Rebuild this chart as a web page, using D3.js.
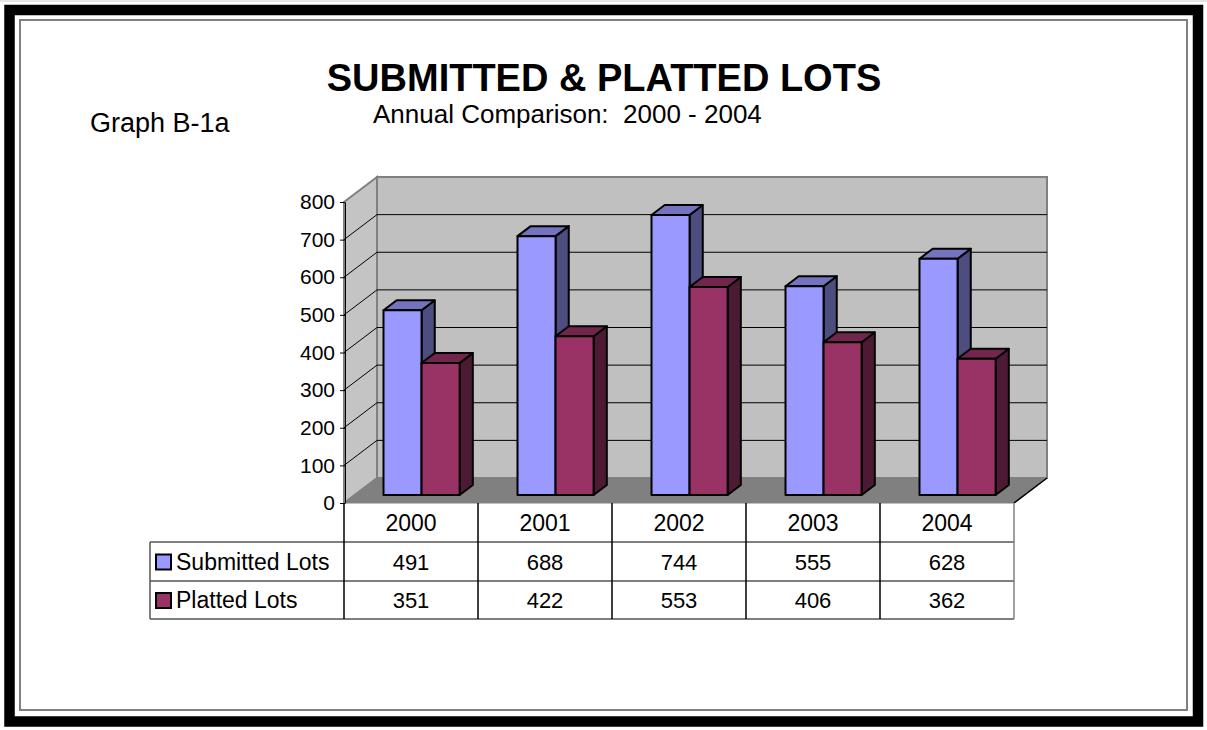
<!DOCTYPE html>
<html>
<head>
<meta charset="utf-8">
<script src="https://cdn.jsdelivr.net/npm/d3@7"></script>
<style>
  body { margin: 0; background: #fff; }
  svg { display: block; font-family: Arial, "Liberation Sans", sans-serif; }
</style>
</head>
<body>
<svg id="chart"></svg>
<script>
const years = ["2000", "2001", "2002", "2003", "2004"];
const submittedLots = [491, 688, 744, 555, 628];
const plattedLots = [351, 422, 553, 406, 362];
const seriesNames = ["Submitted Lots", "Platted Lots"];
const yTicks = [0, 100, 200, 300, 400, 500, 600, 700, 800];

const width = 1207, height = 730;
const series = [
    { name: seriesNames[0], values: submittedLots, front: "#9999ff", top: "#7373bf", side: "#4d4d80" },
    { name: seriesNames[1], values: plattedLots, front: "#993366", top: "#73264d", side: "#4d1a33" },
];

const svg = d3.select("#chart").attr("width", width).attr("height", height);

// frame
svg.append("line").attr("x1", 0).attr("x2", width).attr("y1", 1).attr("y2", 1)
    .attr("stroke", "#c8c8c8").attr("stroke-width", 1);
svg.append("rect").attr("x", 9.5).attr("y", 10).attr("width", 1188.5).attr("height", 711.5)
    .attr("fill", "none").attr("stroke", "#000").attr("stroke-width", 10.5);
svg.append("rect").attr("x", 20).attr("y", 20).attr("width", 1167).attr("height", 690)
    .attr("fill", "none").attr("stroke", "#808080").attr("stroke-width", 2);

// titles
svg.append("text").attr("x", 604).attr("y", 91).attr("text-anchor", "middle")
    .style("font-size", "38px").style("font-weight", "bold").text("SUBMITTED & PLATTED LOTS");
svg.append("text").attr("x", 373).attr("y", 123)
    .style("font-size", "26px").attr("xml:space", "preserve").style("white-space", "pre")
    .text("Annual Comparison:  2000 - 2004");
svg.append("text").attr("x", 90).attr("y", 132).style("font-size", "27px").text("Graph B-1a");

// scales (front plane)
const x = d3.scaleBand().domain(years).range([344, 1014]);
const y = d3.scaleLinear().domain([0, 800]).range([503, 202]);
const depth = { dx: 33, dy: -25 };
const barDepth = [0.32, 0.72];
const gap = x.bandwidth() * 0.216;
const xSub = d3.scaleBand().domain(seriesNames).range([gap, x.bandwidth() - gap]);

const proj = (px, v, f) => [px + depth.dx * f, y(v) + depth.dy * f];

const x0 = x.range()[0], x1 = x.range()[1];
const yTop = y.domain()[1];

// walls and floor
const poly = pts => pts.map(p => p.join(",")).join(" ");
svg.append("polygon")
    .attr("points", poly([proj(x0, yTop, 1), proj(x1, yTop, 1), proj(x1, 0, 1), proj(x0, 0, 1)]))
    .attr("fill", "#c0c0c0").attr("stroke", "#808080").attr("stroke-width", 2);
svg.append("polygon")
    .attr("points", poly([proj(x0, yTop, 0), proj(x0, yTop, 1), proj(x0, 0, 1), proj(x0, 0, 0)]))
    .attr("fill", "#c4c4c4").attr("stroke", "#808080").attr("stroke-width", 2);

// gridlines
const grid = yTicks.filter(t => t > 0 && t < yTop);
svg.selectAll(".gridBack").data(grid).enter().append("line")
    .attr("x1", d => proj(x0, d, 1)[0]).attr("y1", d => proj(x0, d, 1)[1])
    .attr("x2", d => proj(x1, d, 1)[0]).attr("y2", d => proj(x1, d, 1)[1])
    .attr("stroke", "#000").attr("stroke-width", 1);
svg.selectAll(".gridSide").data(grid).enter().append("line")
    .attr("x1", d => proj(x0, d, 0)[0]).attr("y1", d => proj(x0, d, 0)[1])
    .attr("x2", d => proj(x0, d, 1)[0]).attr("y2", d => proj(x0, d, 1)[1])
    .attr("stroke", "#000").attr("stroke-width", 1);

svg.append("polygon")
    .attr("points", poly([proj(x0, 0, 0), proj(x1, 0, 0), proj(x1, 0, 1), proj(x0, 0, 1)]))
    .attr("fill", "#808080").attr("stroke", "#808080").attr("stroke-width", 1);
svg.append("line")
    .attr("x1", proj(x1, 0, 0)[0]).attr("y1", proj(x1, 0, 0)[1])
    .attr("x2", proj(x1, 0, 1)[0]).attr("y2", proj(x1, 0, 1)[1])
    .attr("stroke", "#000").attr("stroke-width", 1.5);

// bars
const bars = [];
years.forEach((yr, i) => {
    series.forEach(s => {
        bars.push({ year: yr, value: s.values[i], s, left: x(yr) + xSub(s.name), right: x(yr) + xSub(s.name) + xSub.bandwidth() });
    });
});
const [f0, f1] = barDepth;
const barG = svg.selectAll(".bar").data(bars).enter().append("g").attr("class", "bar");
barG.append("polygon")
    .attr("points", d => poly([proj(d.right, d.value, f0), proj(d.right, d.value, f1), proj(d.right, 0, f1), proj(d.right, 0, f0)]))
    .attr("fill", d => d.s.side);
barG.append("polygon")
    .attr("points", d => poly([proj(d.left, d.value, f0), proj(d.right, d.value, f0), proj(d.right, d.value, f1), proj(d.left, d.value, f1)]))
    .attr("fill", d => d.s.top);
barG.append("polygon")
    .attr("points", d => poly([proj(d.left, d.value, f0), proj(d.right, d.value, f0), proj(d.right, 0, f0), proj(d.left, 0, f0)]))
    .attr("fill", d => d.s.front);
barG.selectAll("polygon").attr("stroke", "#000").attr("stroke-width", 2).attr("stroke-linejoin", "round");

// y axis
const axis = svg.append("g").attr("transform", `translate(${x0 + 1},0)`)
    .call(d3.axisLeft(y).tickValues(yTicks).tickSize(5).tickPadding(5).tickSizeOuter(0));
axis.select(".domain").attr("stroke", "#000");
axis.selectAll(".tick line").attr("stroke", "#000");
axis.selectAll("text").style("font-size", "21px").attr("fill", "#000")
    .style("font-family", "Arial, 'Liberation Sans', sans-serif");

// data table
const rowY = [503, 542, 581, 619];
const legendX = 150;
const table = svg.append("g");
table.selectAll(".hline").data(rowY.slice(1)).enter().append("line")
    .attr("x1", legendX).attr("x2", x1).attr("y1", d => d).attr("y2", d => d)
    .attr("stroke", "#555").attr("stroke-width", 1.5);
table.append("line").attr("x1", legendX).attr("x2", legendX).attr("y1", rowY[1]).attr("y2", rowY[3])
    .attr("stroke", "#555").attr("stroke-width", 1.5);
table.selectAll(".vline").data(years).enter().append("line")
    .attr("x1", d => x(d)).attr("x2", d => x(d)).attr("y1", rowY[0]).attr("y2", rowY[3])
    .attr("stroke", "#000").attr("stroke-width", 1.5);
table.append("line").attr("x1", x1).attr("x2", x1).attr("y1", rowY[0]).attr("y2", rowY[3])
    .attr("stroke", "#808080").attr("stroke-width", 1.5);

table.selectAll(".yr").data(years).enter().append("text")
    .attr("x", d => x(d) + x.bandwidth() / 2).attr("y", (rowY[0] + rowY[1]) / 2 + 8)
    .attr("text-anchor", "middle").style("font-size", "23px").text(d => d);

series.forEach((s, si) => {
    const cy = (rowY[si + 1] + rowY[si + 2]) / 2;
    table.append("rect").attr("x", legendX + 6).attr("y", cy - 7).attr("width", 15).attr("height", 15)
        .attr("fill", s.front).attr("stroke", "#000").attr("stroke-width", 2);
    table.append("text").attr("x", legendX + 26).attr("y", cy + 8)
        .style("font-size", "23px").text(s.name);
    table.selectAll(".val" + si).data(years).enter().append("text")
        .attr("x", d => x(d) + x.bandwidth() / 2).attr("y", cy + 8)
        .attr("text-anchor", "middle").style("font-size", "22px")
        .text((d, i) => s.values[i]);
});
</script>
</body>
</html>
